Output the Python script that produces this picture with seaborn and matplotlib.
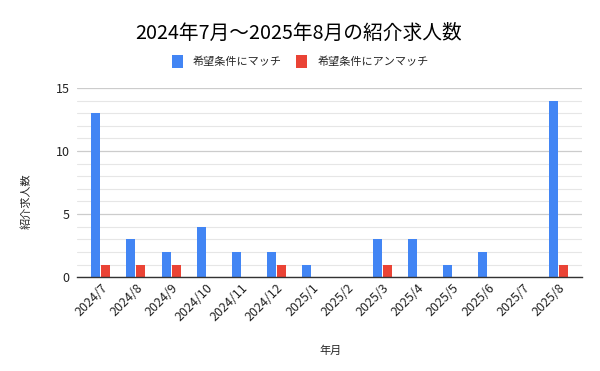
import numpy as np
import pandas as pd
import matplotlib
matplotlib.use('Agg')
import matplotlib.pyplot as plt
import seaborn as sns
from matplotlib.patches import Patch
from matplotlib.ticker import MultipleLocator

# data
months = ['2024/7', '2024/8', '2024/9', '2024/10', '2024/11', '2024/12', '2025/1',
          '2025/2', '2025/3', '2025/4', '2025/5', '2025/6', '2025/7', '2025/8']
match = [13, 3, 2, 4, 2, 2, 1, 0, 3, 3, 1, 2, 0, 14]
unmatch = [1, 1, 1, 0, 0, 1, 0, 0, 1, 0, 0, 0, 0, 1]
series_names = ['希望条件にマッチ', '希望条件にアンマッチ']
colors = ['#4285F4', '#EA4335']

df = pd.DataFrame({
    '年月': months * 2,
    '紹介求人数': match + unmatch,
    'series': [series_names[0]] * len(months) + [series_names[1]] * len(months),
})

sns.set_style('white')
plt.rcParams['font.family'] = ['Noto Sans CJK JP', 'DejaVu Sans']

fig = plt.figure(figsize=(6, 3.71), dpi=100)
ax = fig.add_axes([0.128, 0.253, 0.842, 0.51])

sns.barplot(data=df, x='年月', y='紹介求人数', hue='series', palette=colors,
            width=0.57, gap=0.1, ax=ax, legend=False, saturation=1, linewidth=0)

ax.set_ylim(0, 15)
ax.set_xlim(-0.68, len(months) - 0.32)
ax.yaxis.set_major_locator(MultipleLocator(5))
ax.yaxis.set_minor_locator(MultipleLocator(1))
ax.grid(axis='y', which='major', color='#cccccc', linewidth=0.9)
ax.grid(axis='y', which='minor', color='#e6e6e6', linewidth=0.8)
ax.set_axisbelow(True)
for s in ['top', 'right', 'left']:
    ax.spines[s].set_visible(False)
ax.spines['bottom'].set_color('#333333')
ax.spines['bottom'].set_linewidth(1.0)
ax.tick_params(axis='both', which='both', length=0, colors='#222222')
ax.tick_params(axis='x', labelsize=9, pad=3)
ax.tick_params(axis='y', labelsize=9, pad=5)
plt.setp(ax.get_xticklabels(), rotation=45, ha='right', rotation_mode='anchor')

ax.set_xlabel('年月', fontsize=8)
ax.set_ylabel('紹介求人数', fontsize=8)
ax.xaxis.set_label_coords(0.502, -0.36)
ax.yaxis.set_label_coords(-0.089, 0.40)

fig.suptitle('2024年7月～2025年8月の紹介求人数', fontsize=14.2, x=0.498, y=0.937,
             color='black')

handles = [Patch(facecolor=c, edgecolor='none', label=n) for c, n in zip(colors, series_names)]
fig.legend(handles=handles, loc='center', bbox_to_anchor=(0.5, 0.835), ncol=2,
           frameon=False, fontsize=8, handlelength=1.0, handleheight=1.4,
           columnspacing=1.3, handletextpad=0.9)

fig.savefig('out.png', dpi=100)
